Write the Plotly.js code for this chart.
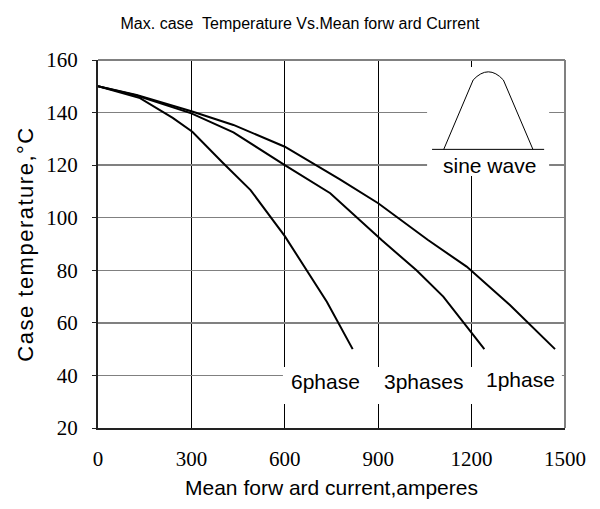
<!DOCTYPE html>
<html>
<head>
<meta charset="utf-8">
<script src="https://cdn.plot.ly/plotly-3.0.1.min.js"></script>
<style>
html,body{margin:0;padding:0;background:#fff;}
#chart{width:600px;height:509px;}
.ytitle{letter-spacing:1.5px;}
</style>
</head>
<body>
<div id="chart"></div>
<script>
// Data
const phase1X = [0, 124, 300, 435, 600, 777, 900, 1060, 1184, 1323, 1468];
const phase1Y = [150, 146.7, 140.5, 135.3, 127, 114.6, 105.5, 91.5, 81.4, 66.8, 50];
const phase3X = [0, 124, 300, 435, 600, 746, 911, 1023, 1109, 1241];
const phase3Y = [150, 146.5, 139.7, 132.5, 120, 109.3, 91.5, 80, 70, 50];
const phase6X = [0, 135, 240, 303, 400, 490, 600, 670, 735, 818];
const phase6Y = [150, 145.5, 138, 132.7, 121, 110.5, 93, 80, 68, 50];
const seriesNames = ["1phase", "3phases", "6phase"];
const labelX = [1358, 1045, 731];
const labelY = [38.3, 37.6, 37.6];
const xTicks = [0, 300, 600, 900, 1200, 1500];
const yTicks = [20, 40, 60, 80, 100, 120, 140, 160];

const lineStyle = {color: "#000", width: 2};
const traces = [
  {x: phase1X, y: phase1Y, name: seriesNames[0], mode: "lines", line: lineStyle},
  {x: phase3X, y: phase3Y, name: seriesNames[1], mode: "lines", line: lineStyle},
  {x: phase6X, y: phase6Y, name: seriesNames[2], mode: "lines", line: lineStyle}
];

const sansFont = "Liberation Sans, Arial, sans-serif";
const serifFont = "Liberation Serif, Times New Roman, serif";

const annotations = seriesNames.map((n, i) => ({
  x: labelX[i], y: labelY[i], xref: "x", yref: "y", text: n, showarrow: false,
  font: {family: sansFont, size: 21, color: "#000"}
}));
annotations.push({x: 1256, y: 120, xref: "x", yref: "y", text: "sine wave", showarrow: false,
  font: {family: sansFont, size: 21, color: "#000"}});

const shapes = [
  // white masks over grid
  {type: "rect", xref: "x", yref: "y", x0: 594, x1: 1490, y0: 29.1, y1: 43.2, fillcolor: "#fff", line: {width: 0}, layer: "between"},
  {type: "rect", xref: "x", yref: "y", x0: 1057, x1: 1449, y0: 115.9, y1: 157.3, fillcolor: "#fff", line: {width: 0}, layer: "between"},
  // sine wave inset
  {type: "line", xref: "x", yref: "y", x0: 1073, x1: 1433, y0: 126, y1: 126, line: {color: "#000", width: 1}},
  {type: "path", xref: "x", yref: "y", path: "M 1110.5 126 L 1205 152.4 Q 1254 158.6 1302 152.4 L 1397 126", line: {color: "#000", width: 1}},
  // top and right frame
  {type: "line", xref: "paper", yref: "paper", x0: 0, x1: 1, y0: 1, y1: 1, line: {color: "#808080", width: 2}},
  {type: "line", xref: "paper", yref: "paper", x0: 1, x1: 1, y0: 0, y1: 1, line: {color: "#808080", width: 2}}
];

const layout = {
  width: 600, height: 509,
  margin: {l: 98, r: 35, t: 60, b: 81},
  paper_bgcolor: "#fff", plot_bgcolor: "#fff",
  showlegend: false,
  title: {text: "Max. case&nbsp; Temperature Vs.Mean forw ard Current", x: 0.5, xref: "container", y: 0.955, yref: "container", yanchor: "middle",
    font: {family: sansFont, size: 16, color: "#000"}},
  xaxis: {
    range: [0, 1500], tickvals: xTicks, ticktext: xTicks.map(String),
    showgrid: true, gridcolor: "#000", gridwidth: 1,
    showline: true, linecolor: "#222", linewidth: 2,
    ticks: "", zeroline: false, ticklabelstandoff: 11,
    tickfont: {family: serifFont, size: 21, color: "#000"},
    title: {text: "Mean forw ard current,amperes", font: {family: sansFont, size: 21, color: "#000"}, standoff: 10}
  },
  yaxis: {
    range: [20, 160], tickvals: yTicks, ticktext: yTicks.map(String),
    showgrid: true, gridcolor: "#808080", gridwidth: 1.5,
    showline: true, linecolor: "#222", linewidth: 2,
    ticks: "outside", ticklen: 4, tickcolor: "#222", zeroline: false, ticklabelstandoff: 10,
    tickfont: {family: serifFont, size: 21, color: "#000"},
    title: {text: "Case temperature,°C", font: {family: sansFont, size: 22, color: "#000"}, standoff: 7}
  },
  annotations: annotations,
  shapes: shapes
};

Plotly.newPlot("chart", traces, layout, {displayModeBar: false, staticPlot: true});
</script>
</body>
</html>
